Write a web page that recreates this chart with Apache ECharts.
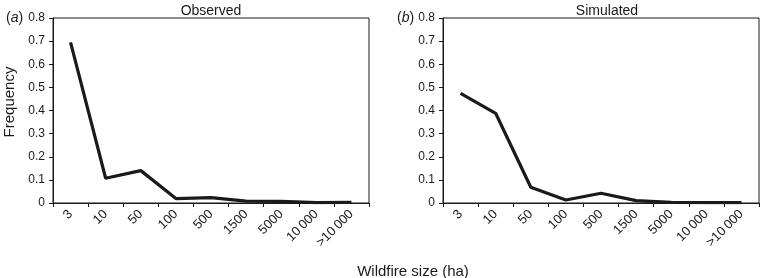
<!DOCTYPE html>
<html>
<head>
<meta charset="utf-8">
<script src="https://cdn.jsdelivr.net/npm/echarts@6/dist/echarts.min.js"></script>
<style>
  html, body { margin: 0; padding: 0; background: #fff; }
  #chart { width: 760px; height: 278px; }
</style>
</head>
<body>
<div id="chart"></div>
<script>
// wildfire size classes (ha)
const sizeClasses = ['3', '10', '50', '100', '500', '1500', '5000', '10\u2009000', '>10\u2009000'];
// frequency per class
const observed = [0.695, 0.107, 0.14, 0.019, 0.023, 0.008, 0.007, 0.002, 0.003];
const simulated = [0.474, 0.388, 0.068, 0.013, 0.042, 0.01, 0.003, 0.002, 0.002];
const yTicks = [0, 0.1, 0.2, 0.3, 0.4, 0.5, 0.6, 0.7, 0.8];

const chart = echarts.init(document.getElementById('chart'));
const font = 'Liberation Sans, Arial, sans-serif';
const ink = '#1a1a1a';

function xAxisFor(idx) {
    return {
        type: 'category',
        gridIndex: idx,
        data: sizeClasses,
        boundaryGap: true,
        axisLine: { lineStyle: { color: ink, width: 1 } },
        axisTick: { show: true, inside: false, length: 4, lineStyle: { color: ink } },
        axisLabel: { rotate: 45, interval: 0, color: ink, fontFamily: font, fontSize: 13, margin: 9 }
    };
}
function yAxisFor(idx) {
    return {
        type: 'value',
        gridIndex: idx,
        min: yTicks[0],
        max: yTicks[yTicks.length - 1],
        interval: 0.1,
        axisLine: { show: true, lineStyle: { color: ink, width: 1 } },
        axisTick: { show: true, length: 4, lineStyle: { color: ink } },
        splitLine: { show: false },
        axisLabel: {
            color: ink, fontFamily: font, fontSize: 12, margin: 8,
            formatter: v => (Math.round(v * 10) / 10).toString()
        }
    };
}
function lineFor(data, idx) {
    return {
        type: 'line',
        xAxisIndex: idx,
        yAxisIndex: idx,
        data: data,
        symbol: 'none',
        lineStyle: { color: ink, width: 3.2 },
        z: 3
    };
}
// panel letter with italic a / b
function panelTag(letter, x) {
    return {
        text: '(' + '{i|' + letter + '})',
        left: x, top: 6,
        textStyle: {
            fontFamily: font, fontSize: 14, fontWeight: 'normal', color: ink,
            rich: { i: { fontFamily: font, fontSize: 14, fontStyle: 'italic', color: ink } }
        }
    };
}

chart.setOption({
    animation: false,
    grid: [
        { left: 53, top: 18, width: 316, height: 185, show: true, borderColor: ink, borderWidth: 1, backgroundColor: 'transparent' },
        { left: 443, top: 18, width: 316, height: 185, show: true, borderColor: ink, borderWidth: 1, backgroundColor: 'transparent' }
    ],
    title: [
        { text: 'Observed', left: 206, top: -1, textAlign: 'center', textStyle: { fontFamily: font, fontSize: 14, fontWeight: 'normal', color: ink } },
        { text: 'Simulated', left: 602, top: -1, textAlign: 'center', textStyle: { fontFamily: font, fontSize: 14, fontWeight: 'normal', color: ink } },
        panelTag('a', 1),
        panelTag('b', 392),
        { text: 'Wildfire size (ha)', left: 408, top: 259, textAlign: 'center', textStyle: { fontFamily: font, fontSize: 15, fontWeight: 'normal', color: ink } }
    ],
    graphic: [{
        type: 'text',
        x: 2,
        y: 102,
        rotation: Math.PI / 2,
        style: { text: 'Frequency', font: '15px ' + font, fill: ink, textAlign: 'center', textVerticalAlign: 'top' }
    }],
    xAxis: [xAxisFor(0), xAxisFor(1)],
    yAxis: [yAxisFor(0), yAxisFor(1)],
    series: [lineFor(observed, 0), lineFor(simulated, 1)]
});
</script>
</body>
</html>
